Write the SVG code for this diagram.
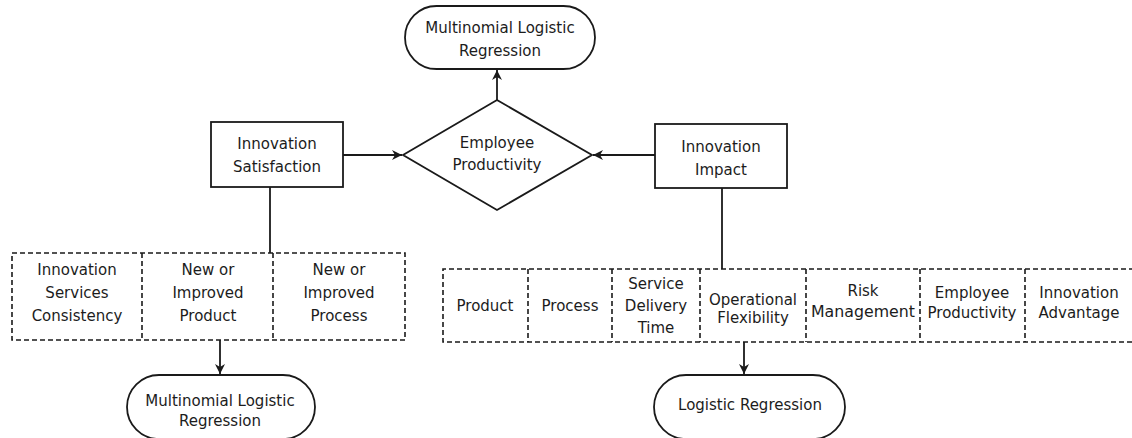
<svg xmlns="http://www.w3.org/2000/svg" width="1132" height="438" viewBox="0 0 1132 438">
<style>
.s{fill:#fff;stroke:#1a1a1a;stroke-width:1.8}
.d{fill:none;stroke:#1a1a1a;stroke-width:1.6;stroke-dasharray:5,3}
.c{fill:none;stroke:#1a1a1a;stroke-width:1.8}
text{font-family:"DejaVu Sans","Liberation Sans",sans-serif;font-size:15px;fill:#1c1c1c;text-anchor:middle}
</style>
<defs>
<marker id="ah" markerWidth="12" markerHeight="12" refX="10" refY="5" orient="auto" markerUnits="userSpaceOnUse">
<path d="M0,0 L10,5 L0,10 L3,5 z" fill="#1a1a1a"/>
</marker>
</defs>
<rect width="1132" height="438" fill="#fff"/>
<g id="connectors">
<line class="c" x1="497" y1="100" x2="497" y2="70" marker-end="url(#ah)"/>
<line class="c" x1="343" y1="155" x2="402" y2="155" marker-end="url(#ah)"/>
<line class="c" x1="655" y1="155" x2="593" y2="155" marker-end="url(#ah)"/>
<line class="c" x1="270" y1="187" x2="270" y2="253"/>
<line class="c" x1="722" y1="188" x2="722" y2="269"/>
<line class="c" x1="220" y1="340" x2="220" y2="374" marker-end="url(#ah)"/>
<line class="c" x1="744" y1="342" x2="744" y2="374" marker-end="url(#ah)"/>
</g>
<g id="top-mlr">
<rect class="s" x="405" y="6" width="190" height="63" rx="31.5"/>
<text x="500" y="33">Multinomial Logistic</text>
<text x="500" y="56">Regression</text>
</g>
<g id="employee-productivity">
<polygon class="s" points="497,100 592,155 497,210 403,155"/>
<text x="497" y="148">Employee</text>
<text x="497" y="170">Productivity</text>
</g>
<g id="innovation-satisfaction">
<rect class="s" x="211" y="122" width="132" height="65"/>
<text x="277" y="149">Innovation</text>
<text x="277" y="172">Satisfaction</text>
</g>
<g id="innovation-impact">
<rect class="s" x="655" y="124" width="132" height="64"/>
<text x="721" y="152">Innovation</text>
<text x="721" y="175">Impact</text>
</g>
<g id="satisfaction-factors">
<rect class="d" x="12" y="253" width="393" height="87"/>
<line class="d" x1="142" y1="253" x2="142" y2="340"/>
<line class="d" x1="273" y1="253" x2="273" y2="340"/>
<text x="77" y="275">Innovation</text>
<text x="77" y="298">Services</text>
<text x="77" y="321">Consistency</text>
<text x="208" y="275">New or</text>
<text x="208" y="298">Improved</text>
<text x="208" y="321">Product</text>
<text x="339" y="275">New or</text>
<text x="339" y="298">Improved</text>
<text x="339" y="321">Process</text>
</g>
<g id="impact-factors">
<path class="d" d="M1134,269 H443 V342 H1134"/>
<line class="d" x1="528" y1="269" x2="528" y2="342"/>
<line class="d" x1="612" y1="269" x2="612" y2="342"/>
<line class="d" x1="700" y1="269" x2="700" y2="342"/>
<line class="d" x1="806" y1="269" x2="806" y2="342"/>
<line class="d" x1="920" y1="269" x2="920" y2="342"/>
<line class="d" x1="1025" y1="269" x2="1025" y2="342"/>
<text x="485" y="311">Product</text>
<text x="570" y="311">Process</text>
<text x="656" y="289">Service</text>
<text x="656" y="311">Delivery</text>
<text x="656" y="333">Time</text>
<text x="753" y="305">Operational</text>
<text x="753" y="323">Flexibility</text>
<text x="863" y="296">Risk</text>
<text x="863" y="317" textLength="104" lengthAdjust="spacingAndGlyphs">Management</text>
<text x="972" y="298">Employee</text>
<text x="972" y="318">Productivity</text>
<text x="1079" y="298">Innovation</text>
<text x="1079" y="318">Advantage</text>
</g>
<g id="bottom-mlr">
<rect class="s" x="127" y="375" width="188" height="64" rx="32"/>
<text x="220" y="406">Multinomial Logistic</text>
<text x="220" y="426">Regression</text>
</g>
<g id="logistic-regression">
<rect class="s" x="654" y="375" width="191" height="64" rx="32"/>
<text x="750" y="410">Logistic Regression</text>
</g>
</svg>
